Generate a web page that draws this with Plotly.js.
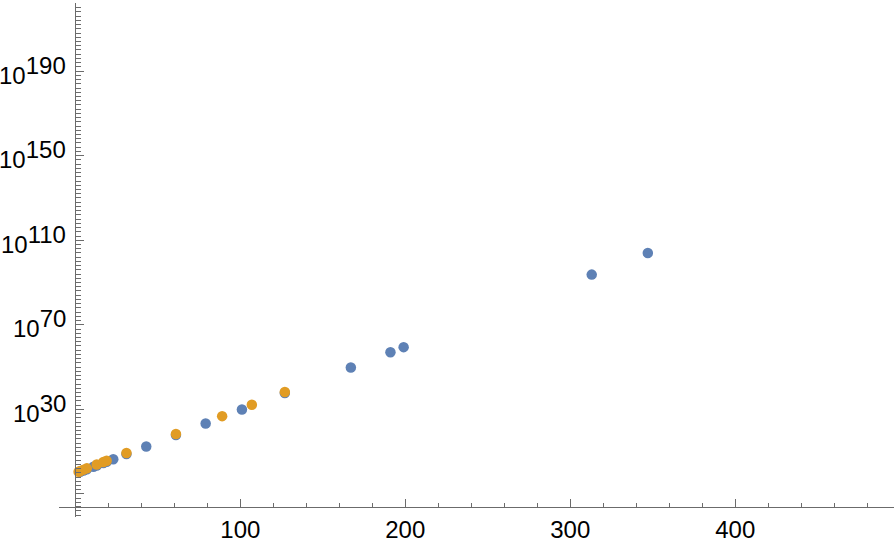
<!DOCTYPE html>
<html>
<head>
<meta charset="utf-8">
<script src="https://cdn.plot.ly/plotly-3.0.1.min.js"></script>
<style>html,body{margin:0;padding:0;background:#fff;}#chart{width:894px;height:543px;}</style>
</head>
<body>
<div id="chart"></div>
<script>
// Blue series: exponents p and values (2^p+1)/3
const blueX = [3, 5, 7, 11, 13, 17, 19, 23, 31, 43, 61, 79, 101, 127, 167, 191, 199, 313, 347];
const blueY = [3, 11, 43, 683, 2731, 43691, 174763, 2796203, 715827883, 2.932e12, 7.686e17,
               2.015e23, 8.451e29, 5.671e37, 6.236e49, 1.046e57, 2.678e59, 5.563e93, 9.557e103];
// Orange series: exponents p and values 2^p-1
const orangeX = [2, 3, 5, 7, 13, 17, 19, 31, 61, 89, 107, 127];
const orangeY = [3, 7, 31, 127, 8191, 131071, 524287, 2147483647, 2.306e18, 6.19e26, 1.623e32, 1.701e38];
// Axis ticks
const xTickVals = [100, 200, 300, 400];
const xTickText = ['100', '200', '300', '400'];
const yTickExp = [-10, 30, 70, 110, 150, 190];
const yTickLabels = ['', '30', '70', '110', '150', '190'];

const xRange = [-9.88, 496.2];
const yRange = [-20.9, 222.2];
const axisColor = '#6b6b6b';
const tickFont = {family: 'Liberation Sans, Arial, sans-serif', size: 24, color: '#000'};

const traces = [
  {x: blueX, y: blueY, type: 'scatter', mode: 'markers',
   marker: {color: '#5e81b5', size: 10.5}, showlegend: false, hoverinfo: 'skip'},
  {x: orangeX, y: orangeY, type: 'scatter', mode: 'markers',
   marker: {color: '#e19c24', size: 10.5}, showlegend: false, hoverinfo: 'skip'},
  {x: [null], y: [null], xaxis: 'x2', yaxis: 'y', type: 'scatter', mode: 'markers', showlegend: false, hoverinfo: 'skip'},
  {x: [null], y: [null], xaxis: 'x', yaxis: 'y2', type: 'scatter', mode: 'markers', showlegend: false, hoverinfo: 'skip'}
];

const yPos = (75.3 - 59) / 835;
const xPos = (517 - 507) / 514;

const annotations = [];
yTickExp.forEach((e, i) => {
  if (!yTickLabels[i]) return;
  annotations.push({
    xref: 'paper', yref: 'y', x: yPos, y: e,
    xanchor: 'right', yanchor: 'middle', xshift: -8, yshift: 1,
    showarrow: false, borderpad: 0,
    text: '10<sup><span style="font-size:24px">' + yTickLabels[i] + '</span></sup>',
    font: tickFont
  });
});

const layout = {
  width: 894, height: 543,
  margin: {l: 59, r: 0, t: 3, b: 26, pad: 0},
  paper_bgcolor: '#fff', plot_bgcolor: '#fff',
  showlegend: false,
  annotations: annotations,
  xaxis: {
    range: xRange, type: 'linear', anchor: 'free', position: xPos,
    showgrid: false, zeroline: false, showline: true, linecolor: axisColor, linewidth: 1,
    tickmode: 'array', tickvals: xTickVals, ticktext: xTickText,
    ticks: 'inside', ticklen: 8, tickwidth: 1, tickcolor: axisColor,
    tickfont: tickFont, ticklabelstandoff: 1
  },
  xaxis2: {
    range: xRange, type: 'linear', overlaying: 'x', anchor: 'free', position: xPos,
    showgrid: false, zeroline: false, showline: false,
    tickmode: 'linear', tick0: 0, dtick: 20,
    ticks: 'inside', ticklen: 4.5, tickwidth: 1, tickcolor: axisColor,
    showticklabels: false
  },
  yaxis: {
    type: 'log', range: yRange, anchor: 'free', position: yPos,
    showgrid: false, zeroline: false, showline: true, linecolor: axisColor, linewidth: 1,
    tickmode: 'array',
    tickvals: yTickExp.map(e => Math.pow(10, e)),
    showticklabels: false,
    ticks: 'inside', ticklen: 8, tickwidth: 1, tickcolor: axisColor
  },
  yaxis2: {
    type: 'log', range: yRange, overlaying: 'y', anchor: 'free', position: yPos, side: 'left',
    showgrid: false, zeroline: false, showline: false,
    tickmode: 'linear', tick0: 0, dtick: 2,
    ticks: 'inside', ticklen: 4.5, tickwidth: 1, tickcolor: axisColor,
    showticklabels: false
  }
};

Plotly.newPlot('chart', traces, layout, {staticPlot: true, displayModeBar: false});
</script>
</body>
</html>
